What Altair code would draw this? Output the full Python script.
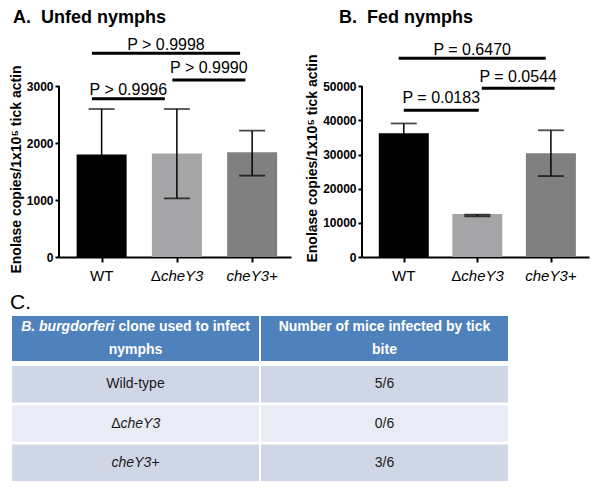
import altair as alt
import pandas as pd

FONT = "Liberation Sans"

# ---------------- data ----------------
groups = ["WT", "ΔcheY3", "cheY3+"]
group_pos = [0, 1, 2]
label_plain = ["WT", "Δ", ""]
label_italic = ["", "cheY3", "cheY3+"]

unfed_mean = [1800, 1820, 1840]
unfed_low = [1000, 1030, 1430]
unfed_high = [2600, 2600, 2220]
unfed_ticks = [0, 1000, 2000, 3000]

fed_mean = [36200, 12600, 30400]
fed_low = [33300, 11900, 23700]
fed_high = [39100, 12400, 37100]
fed_ticks = [0, 10000, 20000, 30000, 40000, 50000]

unfed_p = ["P > 0.9996", "P > 0.9990", "P > 0.9998"]
unfed_br_x1 = [-0.13, 0.94, -0.13]
unfed_br_x2 = [0.84, 1.91, 1.84]
unfed_br_y = [2780, 3110, 3580]
unfed_p_y = [2842, 3228, 3632]

fed_p = ["P = 0.0183", "P = 0.0544", "P = 0.6470"]
fed_br_x1 = [0.0, 1.06, -0.07]
fed_br_x2 = [1.02, 2.05, 1.93]
fed_br_y = [42980, 49400, 58190]
fed_p_y = [45030, 51170, 59060]

table_cols = ["c1", "c2"]
header_italic = ["B. burgdorferi", ""]
header_line1 = ["clone used to infect", "Number of mice infected by tick"]
header_line2 = ["nymphs", "bite"]
table_rows = ["r1", "r2", "r3"]
clone_plain = ["Wild-type", "Δ", ""]
clone_italic = ["", "cheY3", "cheY3+"]
infected = ["5/6", "0/6", "3/6"]

# ---------------- styles ----------------
bar_colors = ["#000000", "#a6a6a9", "#808080"]
row_fills = ["#cfd7e7", "#e9ecf4", "#cfd7e7"]
header_fill = "#4f81bd"
YTITLE = "Enolase copies/1x10\u2075 tick actin"
NBSP = "\u00a0"


def panel(title, title_dx, means, lows, highs, ymax, yticks, pvals, bx1, bx2, by, py,
          width, title_y):
    df = pd.DataFrame({"pos": group_pos, "mean": means, "low": lows, "high": highs,
                       "color": bar_colors, "base": [0, 0, 0],
                       "plain": label_plain, "ital": label_italic})
    xscale = alt.Scale(domain=[-0.5, 2.45], nice=False, zero=False)
    yscale = alt.Scale(domain=[0, ymax], nice=False)
    xaxis = alt.Axis(values=[0, 1, 2], labels=False, ticks=True, tickSize=5,
                     tickWidth=2, tickColor="black", domainColor="black",
                     domainWidth=2, grid=False, title=None)
    yaxis = alt.Axis(values=yticks, format="d", labelFont=FONT,
                     labelFontWeight="bold", labelFontSize=12,
                     labelColor="black", tickSize=4, tickWidth=2,
                     tickColor="black", domain=False, grid=False,
                     labelPadding=2, title=YTITLE, titleFont=FONT,
                     titleFontWeight="bold", titleFontSize=14,
                     titleColor="black", titlePadding=3, titleY=title_y)

    def X(f):
        return alt.X(f, scale=xscale, axis=xaxis)

    def Y(f):
        return alt.Y(f, scale=yscale, axis=yaxis)

    bars = alt.Chart(df).mark_bar(size=50).encode(
        x=X("pos:Q"), y=Y("mean:Q"), color=alt.Color("color:N", scale=None))
    err = alt.Chart(df).mark_rule(strokeWidth=1.5, color="black").encode(
        x=X("pos:Q"), y=Y("low:Q"), y2="high:Q")
    cap_hi = alt.Chart(df).mark_tick(orient="horizontal", size=26, thickness=1.8,
                                     color="black").encode(x=X("pos:Q"), y=Y("high:Q"))
    cap_lo = alt.Chart(df).mark_tick(orient="horizontal", size=26, thickness=1.8,
                                     color="black").encode(x=X("pos:Q"), y=Y("low:Q"))

    yline = alt.Chart(pd.DataFrame({"y0": [0], "y1": [yticks[-1]]})).mark_rule(
        strokeWidth=2, color="black").encode(x=alt.value(0), y=Y("y0:Q"), y2="y1:Q")

    br = pd.DataFrame({"x1": bx1, "x2": bx2, "y": by, "ty": py, "label": pvals})
    br["xm"] = (br["x1"] + br["x2"]) / 2
    br_rules = alt.Chart(br).mark_rule(strokeWidth=3, color="black").encode(
        x=X("x1:Q"), x2="x2:Q", y=Y("y:Q"))
    br_text = alt.Chart(br).mark_text(font=FONT, fontSize=16, baseline="alphabetic",
                                      color="black").encode(
        x=X("xm:Q"), y=Y("ty:Q"), text="label:N")

    def lab(sub, field, align, dx, italic):
        return alt.Chart(sub).mark_text(font=FONT, fontSize=15, align=align, dx=dx,
                                        dy=24, baseline="alphabetic", color="black",
                                        fontStyle="italic" if italic else "normal").encode(
            x=X("pos:Q"), y=Y("base:Q"), text=f"{field}:N")

    only_plain = df[(df["plain"] != "") & (df["ital"] == "")]
    both = df[(df["plain"] != "") & (df["ital"] != "")]
    only_ital = df[(df["plain"] == "") & (df["ital"] != "")]
    labels = [lab(only_plain, "plain", "center", 0, False),
              lab(both, "plain", "right", -16, False),
              lab(both, "ital", "left", -16, True),
              lab(only_ital, "ital", "center", 0, True)]

    return alt.layer(bars, err, cap_hi, cap_lo, yline, br_rules, br_text, *labels).properties(
        width=width, height=222,
        title=alt.TitleParams(text=title, anchor="start", frame="group", dx=title_dx,
                              fontSize=18, fontWeight="bold", font=FONT, color="black",
                              offset=8))


chart_a = panel("A." + NBSP + " Unfed nymphs", -46, unfed_mean, unfed_low, unfed_high,
                3900, unfed_ticks, unfed_p, unfed_br_x1, unfed_br_x2, unfed_br_y,
                unfed_p_y, 232, 134)
chart_b = panel("B." + NBSP + " Fed nymphs", -23, fed_mean, fed_low, fed_high, 65000,
                fed_ticks, fed_p, fed_br_x1, fed_br_x2, fed_br_y, fed_p_y,
                227, 123)

# ---------------- table ----------------
TABLE_LEFT = -47
TABLE_W = 496
col_scale = alt.Scale(domain=table_cols, range=[TABLE_LEFT, TABLE_LEFT + TABLE_W],
                      paddingInner=0.008, paddingOuter=0)

hdr_df = pd.DataFrame({"col": table_cols})
hdr_rect = alt.Chart(hdr_df).mark_rect(color=header_fill).encode(
    x=alt.X("col:N", scale=col_scale, axis=None))

hdr_txt = pd.DataFrame({
    "col": [table_cols[1], table_cols[0], table_cols[1]],
    "line": ["1", "2", "2"],
    "txt": [header_line1[1], header_line2[0], header_line2[1]],
})
line_scale = alt.Scale(domain=["1", "2"], paddingInner=0, paddingOuter=0.18)


def hdr_text(df, align, dx, italic):
    return alt.Chart(df).mark_text(font=FONT, fontSize=14, fontWeight="bold",
                                   color="white", align=align, dx=dx,
                                   fontStyle="italic" if italic else "normal").encode(
        x=alt.X("col:N", scale=col_scale, axis=None),
        y=alt.Y("line:N", scale=line_scale, axis=None), text="txt:N")


hdr_split_i = pd.DataFrame({"col": [table_cols[0]], "line": ["1"], "txt": [header_italic[0]]})
hdr_split_n = pd.DataFrame({"col": [table_cols[0]], "line": ["1"], "txt": [header_line1[0]]})

header = alt.layer(
    hdr_rect,
    hdr_text(hdr_txt, "center", 0, False),
    hdr_text(hdr_split_i, "right", -21, True),
    hdr_text(hdr_split_n, "left", -17, False),
).properties(width=TABLE_LEFT + TABLE_W, height=45,
             title=alt.TitleParams(text="C.", anchor="start", frame="group", dx=-49,
                                   fontSize=21, fontWeight="normal", font=FONT,
                                   color="black", offset=3))

row_scale = alt.Scale(domain=table_rows, paddingInner=0.07, paddingOuter=0.0)
body_cells = pd.DataFrame({
    "col": [c for r in table_rows for c in table_cols],
    "row": [r for r in table_rows for c in table_cols],
    "fill": [f for f in row_fills for c in table_cols],
})
body_rect = alt.Chart(body_cells).mark_rect().encode(
    x=alt.X("col:N", scale=col_scale, axis=None),
    y=alt.Y("row:N", scale=row_scale, axis=None),
    color=alt.Color("fill:N", scale=None))

cells = pd.DataFrame({"row": table_rows, "plain": clone_plain, "ital": clone_italic,
                      "inf": infected})
cells["c1"] = table_cols[0]
cells["c2"] = table_cols[1]


def body_text(df, field, colf, align, dx, italic):
    return alt.Chart(df).mark_text(font=FONT, fontSize=14, color="#1a1a1a", align=align,
                                   dx=dx, fontStyle="italic" if italic else "normal").encode(
        x=alt.X(f"{colf}:N", scale=col_scale, axis=None),
        y=alt.Y("row:N", scale=row_scale, axis=None), text=f"{field}:N")


c_plain = cells[(cells["plain"] != "") & (cells["ital"] == "")]
c_both = cells[(cells["plain"] != "") & (cells["ital"] != "")]
c_ital = cells[(cells["plain"] == "") & (cells["ital"] != "")]

body = alt.layer(
    body_rect,
    body_text(c_plain, "plain", "c1", "center", 0, False),
    body_text(c_both, "plain", "c1", "right", -15, False),
    body_text(c_both, "ital", "c1", "left", -15, True),
    body_text(c_ital, "ital", "c1", "center", 0, True),
    body_text(cells, "inf", "c2", "center", 0, False),
).properties(width=TABLE_LEFT + TABLE_W, height=115)

top = alt.hconcat(chart_a, chart_b, spacing=13)
bottom = alt.vconcat(header, body, spacing=3)

chart = alt.vconcat(top, bottom, spacing=6).properties(
    padding={"left": 0, "top": 0, "right": 0, "bottom": 0}
).configure(font=FONT).configure_view(stroke="transparent")

chart.save("out.html", embed_options={"renderer": "svg", "actions": False})
